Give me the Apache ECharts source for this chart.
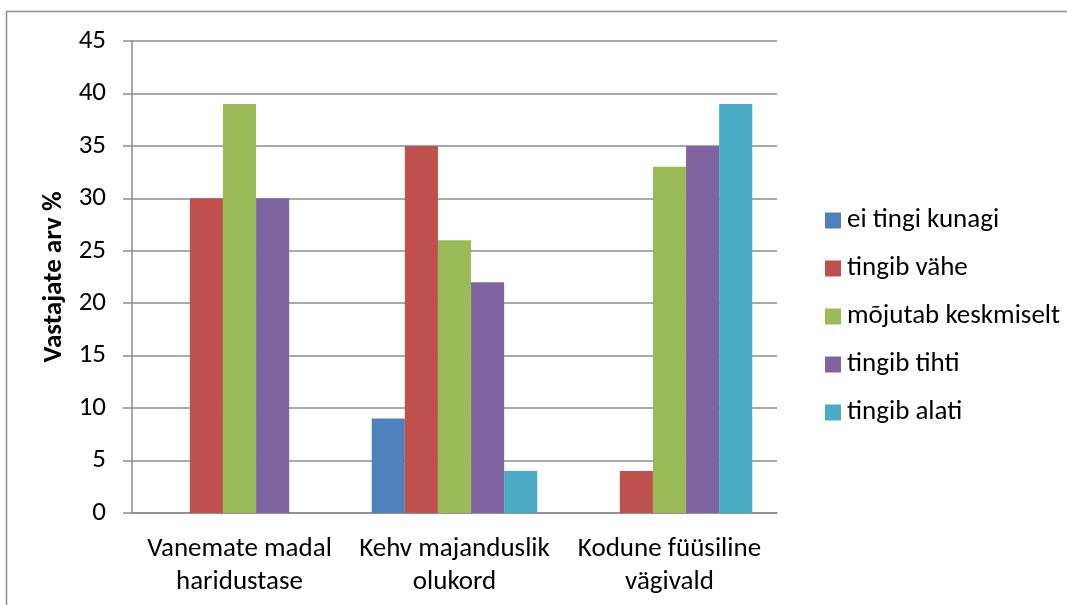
<!DOCTYPE html>
<html><head><meta charset="utf-8">
<script src="https://cdn.jsdelivr.net/npm/echarts@6/dist/echarts.min.js"></script>
<style>html,body{margin:0;padding:0;background:#fff}#c{width:1067px;height:605px}</style>
</head><body><div id="c"></div>
<script>
const categories = ['Vanemate madal\nharidustase', 'Kehv majanduslik\nolukord', 'Kodune füüsiline\nvägivald'];
const seriesNames = ['ei tingi kunagi', 'tingib vähe', 'mõjutab keskmiselt', 'tingib tihti', 'tingib alati'];
const eiTingiKunagi = [0, 9, 0];
const tingibVahe = [30, 35, 4];
const mojutabKeskmiselt = [39, 26, 33];
const tingibTihti = [30, 22, 35];
const tingibAlati = [0, 4, 39];
const colors = ['#4F81BD', '#C0504D', '#9BBB59', '#8064A2', '#4BACC6'];
const yTicks = [0, 45, 5];

const FONT = 'Carlito, "Open Sans", sans-serif';
const FS = 27;
const values = [eiTingiKunagi, tingibVahe, mojutabKeskmiselt, tingibTihti, tingibAlati];
const chart = echarts.init(document.getElementById('c'));
chart.setOption({
  animation: false,
  textStyle: {fontFamily: FONT},
  graphic: [{type: 'rect', shape: {x: 6.5, y: 11.5, width: 1080, height: 620}, style: {fill: 'none', stroke: '#8c8c8c', lineWidth: 1.5}, silent: true}],
  grid: {left: 132, right: 290, top: 41, bottom: 92},
  legend: {
    orient: 'vertical', left: 820, top: 202, itemGap: 21, itemWidth: 16, itemHeight: 16,
    icon: 'rect', data: seriesNames,
    textStyle: {fontSize: FS, lineHeight: 27, color: '#000', fontFamily: FONT, padding: [0, 0, 0, 1]}
  },
  xAxis: {
    type: 'category', data: categories,
    axisLine: {lineStyle: {color: '#8c8c8c', width: 1.5}},
    axisTick: {show: false},
    axisLabel: {interval: 0, hideOverlap: false, fontSize: FS, color: '#000', lineHeight: 33, margin: 20, fontFamily: FONT}
  },
  yAxis: {
    type: 'value', min: yTicks[0], max: yTicks[1], interval: yTicks[2],
    name: 'Vastajate arv %', nameLocation: 'middle', nameGap: 61,
    nameTextStyle: {fontSize: FS, fontWeight: 'bold', color: '#000', fontFamily: FONT},
    axisLine: {show: true, lineStyle: {color: '#8c8c8c', width: 1.5}},
    axisTick: {show: true, length: 9, lineStyle: {color: '#8c8c8c', width: 1.5}},
    axisLabel: {fontSize: FS, color: '#000', margin: 26, fontFamily: FONT},
    splitLine: {lineStyle: {color: '#8c8c8c', width: 1.5}}
  },
  series: values.map((v, i) => ({
    name: seriesNames[i], type: 'bar', data: v,
    itemStyle: {color: colors[i]},
    barGap: '0%', barCategoryGap: '23%'
  }))
});
</script></body></html>
